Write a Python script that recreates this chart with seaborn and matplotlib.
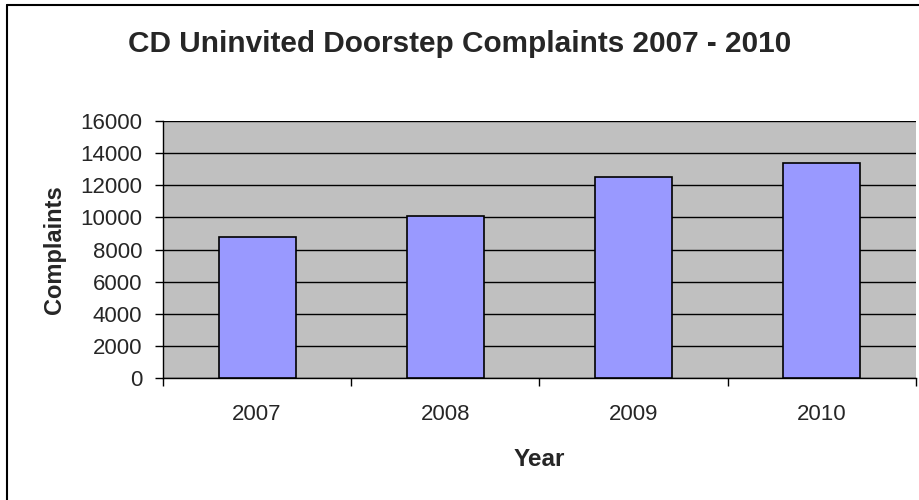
import matplotlib
matplotlib.use("Agg")
import matplotlib.pyplot as plt
import seaborn as sns
import pandas as pd
from matplotlib.lines import Line2D

years = ["2007", "2008", "2009", "2010"]
complaints = [8800, 10100, 12500, 13400]
y_ticks = [0, 2000, 4000, 6000, 8000, 10000, 12000, 14000, 16000]

title = "CD Uninvited Doorstep Complaints 2007 - 2010"
x_label = "Year"
y_label = "Complaints"

sns.set_style("white")
plt.rcParams["font.family"] = ["Liberation Sans", "DejaVu Sans"]

df = pd.DataFrame({"Year": years, "Complaints": complaints})

W, H = 920, 500
fig = plt.figure(figsize=(9.2, 5), dpi=100)
ax = fig.add_axes([163 / W, 122 / H, (916 - 163) / W, (378 - 121) / H])
ax.set_facecolor("#C0C0C0")

sns.barplot(data=df, x="Year", y="Complaints", ax=ax, color="#9999FF",
            saturation=1, width=0.41, edgecolor="black", linewidth=1.2, zorder=3)

ax.set_ylim(0, 16000)
ax.set_xlim(-0.5, len(years) - 0.5)
ax.set_yticks(y_ticks)
ax.set_yticklabels([str(t) for t in y_ticks], fontsize=16)
ax.tick_params(axis="y", length=6, width=1, color="black", direction="out", pad=8.8, left=True)
# category labels at centers, tick marks at boundaries
ax.set_xticks(range(len(years)))
ax.set_xticklabels(years, fontsize=16)
ax.tick_params(axis="x", length=0, pad=18.5)
ax.set_xticks([i - 0.5 for i in range(len(years) + 1)], minor=True)
ax.tick_params(axis="x", which="minor", length=6, width=1, color="black", direction="out", bottom=True)

ax.yaxis.grid(True, color="black", linewidth=1)
ax.set_axisbelow(True)
for s in ["top", "right"]:
    ax.spines[s].set_visible(False)
for s in ["left", "bottom"]:
    ax.spines[s].set_color("black")
    ax.spines[s].set_linewidth(1)

ax.set_xlabel(x_label, fontsize=17.5, fontweight="bold", labelpad=16.5)
ax.set_ylabel(y_label, fontsize=17, fontweight="bold", labelpad=10.5)

fig.text(460 / W, 1 - 44 / H, title, ha="center", va="center",
         fontsize=21.4, fontweight="bold")

# chart-area border (left and top edges visible)
fig.lines.append(Line2D([7 / W, 7 / W], [0, 1 - 5 / H], transform=fig.transFigure,
                        color="black", linewidth=1.5))
fig.lines.append(Line2D([7 / W, 1], [1 - 5 / H, 1 - 5 / H], transform=fig.transFigure,
                        color="black", linewidth=1.5))

fig.savefig("out.png", dpi=100)
